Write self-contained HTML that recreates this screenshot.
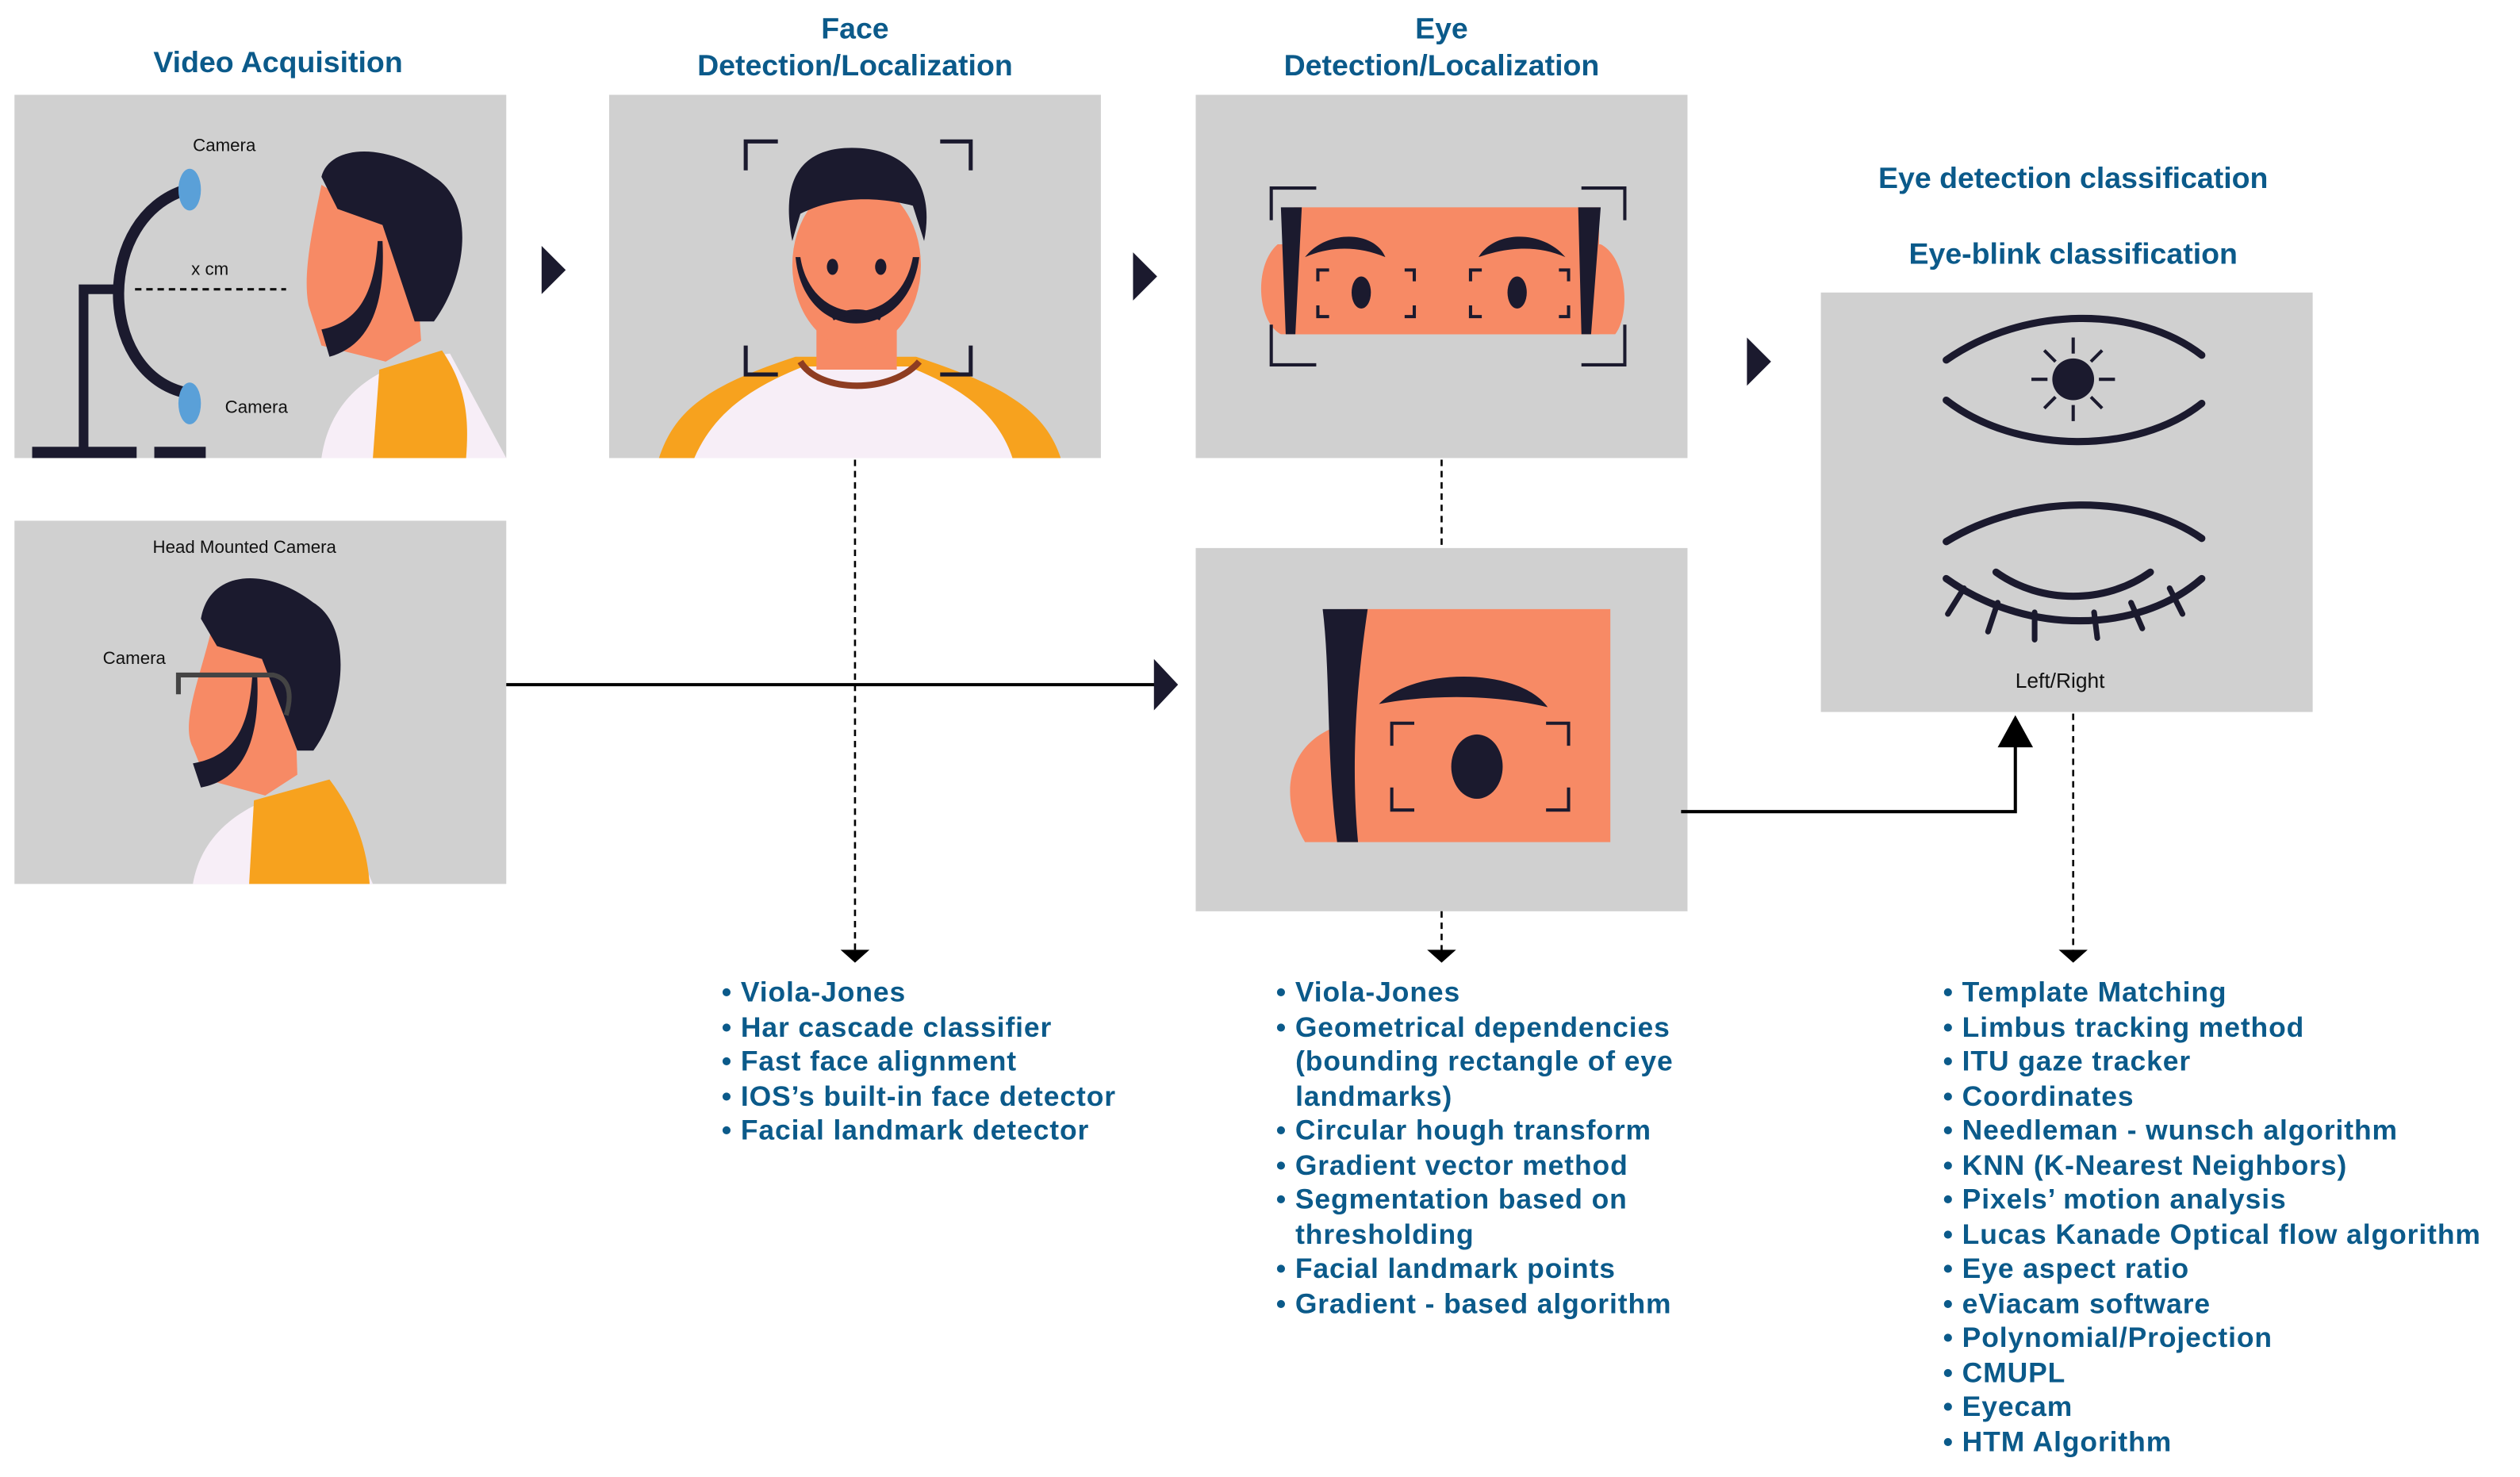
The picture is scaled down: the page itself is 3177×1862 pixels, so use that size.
<!DOCTYPE html>
<html><head><meta charset="utf-8"><style>
html,body{margin:0;padding:0;background:#fff}
svg{display:block}
text{font-family:"Liberation Sans",sans-serif}
.t{fill:#0b5a8a;font-size:18.5px;font-weight:bold;text-anchor:middle}
.l{fill:#0b5a8a;font-size:17.5px;font-weight:bold;letter-spacing:0.45px}
.s{fill:#111;font-size:11px}
</style></head><body>
<svg width="3177" height="1862" viewBox="0 0 1568 919" xmlns="http://www.w3.org/2000/svg">
<rect width="1568" height="919" fill="#fff"/>
<!-- titles -->
<text class="t" x="173" y="45">Video Acquisition</text>
<text class="t" x="532" y="24">Face</text>
<text class="t" x="532" y="47">Detection/Localization</text>
<text class="t" x="897" y="24">Eye</text>
<text class="t" x="897" y="47">Detection/Localization</text>
<text class="t" x="1290" y="117">Eye detection classification</text>
<text class="t" x="1290" y="164">Eye-blink classification</text>

<!-- Panel A -->
<rect x="9" y="59" width="306" height="226" fill="#d0d0d0"/>
<text class="s" x="120" y="94">Camera</text>
<text class="s" x="140" y="257">Camera</text>
<text class="s" x="119" y="171">x cm</text>
<line x1="84" y1="180" x2="178" y2="180" stroke="#111" stroke-width="1.5" stroke-dasharray="4,3"/>
<path d="M116,118 C60,135 60,230 114,244" fill="none" stroke="#1b1a2e" stroke-width="7"/>
<path d="M52,282 V180 H76" fill="none" stroke="#1b1a2e" stroke-width="6"/>
<rect x="20" y="278" width="65" height="7" fill="#1b1a2e"/>
<rect x="96" y="278" width="32" height="7" fill="#1b1a2e"/>
<ellipse cx="118" cy="118" rx="7" ry="13" fill="#5aa0d8"/>
<ellipse cx="118" cy="251" rx="7" ry="13" fill="#5aa0d8"/>
<path d="M200,285 C205,250 230,225 280,220 L315,285Z" fill="#f7eef7"/>
<path d="M232,285 L236,230 L275,218 C290,240 292,260 290,285Z" fill="#f7a21e"/>
<path d="M200,115 C195,140 188,170 192,190 L200,215 L240,225 L262,212 L258,150 Z" fill="#f78a65"/>
<path d="M200,110 C205,90 240,88 270,110 C295,125 292,170 270,200 L258,200 L238,140 L210,130 Z" fill="#1b1a2e"/>
<path d="M238,150 C240,190 230,215 205,222 L200,205 C225,200 233,180 235,150Z" fill="#1b1a2e"/>

<!-- Panel B -->
<rect x="9" y="324" width="306" height="226" fill="#d0d0d0"/>
<text class="s" x="95" y="344">Head Mounted Camera</text>
<text class="s" x="64" y="413">Camera</text>
<path d="M120,550 C125,520 150,495 205,488 L232,550Z" fill="#f7eef7"/>
<path d="M155,550 L158,498 L205,485 C220,505 228,525 230,550Z" fill="#f7a21e"/>
<path d="M132,390 C125,420 112,450 120,465 L128,485 L165,495 L185,482 L183,420 Z" fill="#f78a65"/>
<path d="M125,385 C130,355 165,352 195,375 C220,390 215,440 195,467 L185,467 L163,410 L135,402 Z" fill="#1b1a2e"/>
<path d="M160,420 C162,460 152,485 125,490 L120,475 C148,470 155,450 157,420Z" fill="#1b1a2e"/>
<path d="M111,432 V420 H170 C180,422 182,432 178,445" fill="none" stroke="#444" stroke-width="3"/>

<!-- Panel C -->
<rect x="379" y="59" width="306" height="226" fill="#d0d0d0"/>
<path d="M410,285 C420,255 440,240 495,222 L570,222 C625,240 650,255 660,285Z" fill="#f7a21e"/>
<path d="M432,285 C445,255 470,240 500,228 L565,228 C595,240 620,255 630,285Z" fill="#f7eef7"/>
<path d="M498,225 C510,245 555,245 572,225" fill="none" stroke="#8e3d22" stroke-width="4"/>
<rect x="508" y="190" width="50" height="40" fill="#f78a65"/>
<ellipse cx="533" cy="165" rx="40" ry="52" fill="#f78a65"/>
<path d="M493,150 C485,110 500,92 530,92 C565,92 582,115 575,150 L568,128 C545,122 520,122 498,133Z" fill="#1b1a2e"/>
<path d="M495,160 C500,215 565,215 572,160 L568,160 C560,205 505,205 498,160Z" fill="#1b1a2e"/>
<path d="M518,198 Q533,190 548,198" stroke="#1b1a2e" stroke-width="3" fill="none"/>
<ellipse cx="518" cy="166" rx="3.5" ry="5" fill="#1b1a2e"/>
<ellipse cx="548" cy="166" rx="3.5" ry="5" fill="#1b1a2e"/>
<path d="M464,106 V88 H484 M585,88 H604 V106 M464,215 V233 H484 M585,233 H604 V215" fill="none" stroke="#1b1a2e" stroke-width="2.5"/>

<!-- Panel D -->
<rect x="744" y="59" width="306" height="226" fill="#d0d0d0"/>
<path d="M795,152 C780,165 782,200 797,208 L1005,208 C1015,195 1012,160 996,152Z" fill="#f78a65"/>
<rect x="805" y="129" width="190" height="79" fill="#f78a65"/>
<path d="M797,129 H810 L806,208 H800Z M982,129 H996 L990,208 H984Z" fill="#1b1a2e"/>
<path d="M812,160 C825,143 855,143 862,160 C845,153 828,153 812,160Z M920,160 C930,143 960,143 974,160 C958,153 940,153 920,160Z" fill="#1b1a2e"/>
<ellipse cx="847" cy="182" rx="6" ry="10" fill="#1b1a2e"/>
<ellipse cx="944" cy="182" rx="6" ry="10" fill="#1b1a2e"/>
<path d="M820,175 V168 H827 M874,168 H880 V175 M820,190 V197 H827 M874,197 H880 V190 M915,175 V168 H922 M970,168 H976 V175 M915,190 V197 H922 M970,197 H976 V190" fill="none" stroke="#1b1a2e" stroke-width="2"/>
<path d="M791,137 V117 H819 M984,117 H1011 V137 M791,202 V227 H819 M984,227 H1011 V202" fill="none" stroke="#1b1a2e" stroke-width="2"/>

<!-- Panel E -->
<rect x="744" y="341" width="306" height="226" fill="#d0d0d0"/>
<path d="M838,450 C800,460 795,495 812,524 L1002,524 V379 H838Z" fill="#f78a65"/>
<path d="M823,379 H851 C845,420 840,470 845,524 H832 C825,470 828,420 823,379Z" fill="#1b1a2e"/>
<path d="M858,438 C880,415 945,415 963,440 C930,432 890,432 858,438Z" fill="#1b1a2e"/>
<ellipse cx="919" cy="477" rx="16" ry="20" fill="#1b1a2e"/>
<path d="M866,464 V450 H880 M962,450 H976 V464 M866,490 V504 H880 M962,504 H976 V490" fill="none" stroke="#1b1a2e" stroke-width="2"/>

<!-- Panel F -->
<rect x="1133" y="182" width="306" height="261" fill="#d0d0d0"/>
<g fill="none" stroke="#1b1a2e" stroke-width="4.5" stroke-linecap="round">
<path d="M1211,224 C1260,190 1330,190 1370,221"/>
<path d="M1211,249 C1255,283 1330,283 1370,251"/>
<path d="M1211,337 C1260,307 1330,307 1370,335"/>
<path d="M1211,360 C1260,395 1330,395 1370,360"/>
<path d="M1242,356 C1270,376 1310,376 1338,356"/>
<path d="M1222,366 L1212,382 M1243,375 L1237,393 M1266,381 V398 M1303,381 L1305,397 M1326,375 L1333,391 M1350,366 L1358,382" stroke-width="3.5"/>
</g>
<circle cx="1290" cy="236" r="13" fill="#1b1a2e"/>
<g stroke="#1b1a2e" stroke-width="2" fill="none">
<path d="M1290,220 V210 M1290,252 V262 M1274,236 H1264 M1306,236 H1316 M1279,225 L1272,218 M1301,225 L1308,218 M1279,247 L1272,254 M1301,247 L1308,254"/>
</g>
<text class="s" x="1254" y="428" style="font-size:13px">Left/Right</text>

<!-- arrows -->
<path d="M337,153 L352,168 L337,183Z" fill="#1b1a2e"/>
<path d="M705,157 L720,172 L705,187Z" fill="#1b1a2e"/>
<path d="M1087,210 L1102,225 L1087,240Z" fill="#1b1a2e"/>
<line x1="315" y1="426" x2="720" y2="426" stroke="#000" stroke-width="2"/>
<path d="M718,410 L733,426 L718,442Z" fill="#1b1a2e"/>
<g stroke="#000" stroke-width="1.3" stroke-dasharray="4,3" fill="none">
<line x1="532" y1="286" x2="532" y2="592"/>
<line x1="897" y1="286" x2="897" y2="341"/>
<line x1="897" y1="567" x2="897" y2="592"/>
<line x1="1290" y1="444" x2="1290" y2="592"/>
</g>
<path d="M523,591 L541,591 L532,599Z M888,591 L906,591 L897,599Z M1281,591 L1299,591 L1290,599Z" fill="#000"/>
<path d="M1046,505 H1254 V462" fill="none" stroke="#000" stroke-width="2"/>
<path d="M1243,465 L1254,445 L1265,465Z" fill="#000"/>

<!-- lists -->
<g class="l">
<text x="449" y="623">•  Viola-Jones</text>
<text x="449" y="645">•  Har cascade classifier</text>
<text x="449" y="666">•  Fast face alignment</text>
<text x="449" y="688">•  IOS’s built-in face detector</text>
<text x="449" y="709">•  Facial landmark detector</text>

<text x="794" y="623">•  Viola-Jones</text>
<text x="794" y="645">•  Geometrical dependencies</text>
<text x="806" y="666">(bounding rectangle of eye</text>
<text x="806" y="688">landmarks)</text>
<text x="794" y="709">•  Circular hough transform</text>
<text x="794" y="731">•  Gradient vector method</text>
<text x="794" y="752">•  Segmentation based on</text>
<text x="806" y="774">thresholding</text>
<text x="794" y="795">•  Facial landmark points</text>
<text x="794" y="817">•  Gradient - based algorithm</text>

<text x="1209" y="623">•  Template Matching</text>
<text x="1209" y="645">•  Limbus tracking method</text>
<text x="1209" y="666">•  ITU gaze tracker</text>
<text x="1209" y="688">•  Coordinates</text>
<text x="1209" y="709">•  Needleman - wunsch algorithm</text>
<text x="1209" y="731">•  KNN (K-Nearest Neighbors)</text>
<text x="1209" y="752">•  Pixels’ motion analysis</text>
<text x="1209" y="774">•  Lucas Kanade Optical flow algorithm</text>
<text x="1209" y="795">•  Eye aspect ratio</text>
<text x="1209" y="817">•  eViacam software</text>
<text x="1209" y="838">•  Polynomial/Projection</text>
<text x="1209" y="860">•  CMUPL</text>
<text x="1209" y="881">•  Eyecam</text>
<text x="1209" y="903">•  HTM Algorithm</text>
</g>
</svg>
</body></html>
